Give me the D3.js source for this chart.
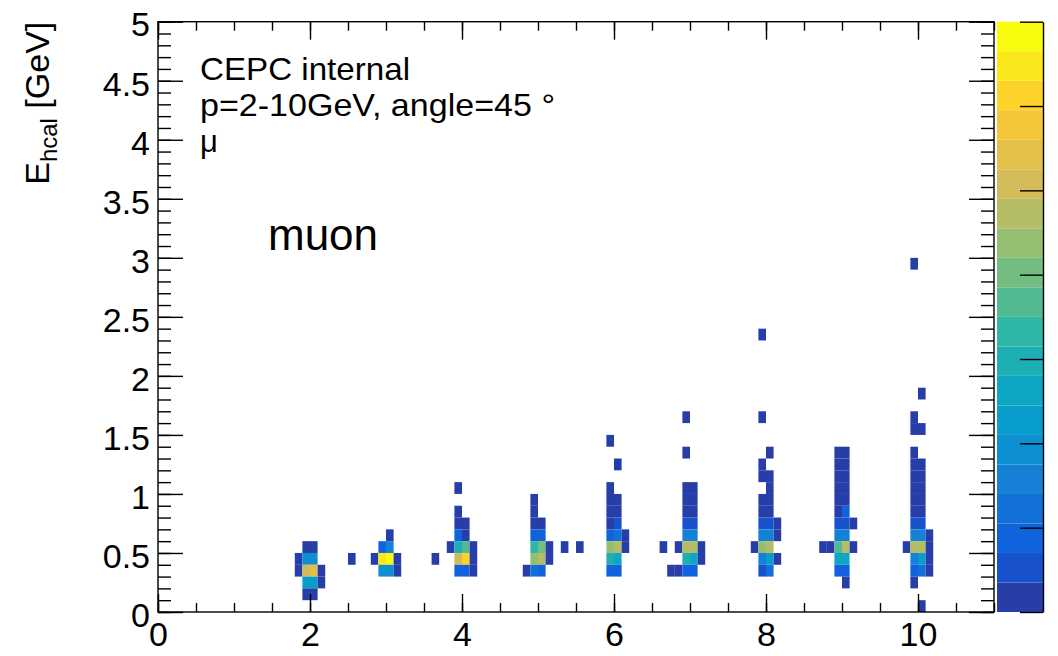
<!DOCTYPE html>
<html>
<head>
<meta charset="utf-8">
<script src="https://cdn.jsdelivr.net/npm/d3@7"></script>
<style>
  html, body { margin: 0; padding: 0; background: #fff; }
  svg { display: block; font-family: "Liberation Sans", Arial, Helvetica, sans-serif; }
</style>
</head>
<body>
<svg id="chart" width="1058" height="656"></svg>
<script>
// histogram binning, GeV
var binW = 0.1, binH = 0.1;
var xDomain = [0, 11], yDomain = [0, 5], zDomain = [0, 7];
var xTickLabels = [0, 2, 4, 6, 8, 10];
var yTickLabels = [0, 0.5, 1, 1.5, 2, 2.5, 3, 3.5, 4, 4.5, 5];
var zTicks = [0, 1, 2, 3, 4, 5, 6, 7];

// filled bins: [x low edge, y low edge, content], one list per beam momentum
var p2 = [
  [1.9,0.5,0.2],[2.0,0.5,0.2],
  [1.8,0.4,0.2],[1.9,0.4,1.9],[2.0,0.4,1.9],
  [1.8,0.3,0.2],[1.9,0.3,5.1],[2.0,0.3,5.4],[2.1,0.3,0.2],
  [1.9,0.2,2.3],[2.0,0.2,2.3],[2.1,0.2,0.2],
  [1.9,0.1,0.2],[2.0,0.1,0.2],
  [2.5,0.4,0.2]
];
var p3 = [
  [3.0,0.6,0.2],
  [2.9,0.5,0.9],[3.0,0.5,1.6],
  [2.8,0.4,0.2],[2.9,0.4,6.5],[3.0,0.4,6.9],[3.1,0.4,0.2],
  [2.9,0.3,1.9],[3.0,0.3,1.9],[3.1,0.3,0.2],
  [3.6,0.4,0.2]
];
var p4 = [
  [3.9,1.0,0.2],
  [3.9,0.8,0.2],
  [3.9,0.7,0.2],[4.0,0.7,0.2],
  [3.9,0.6,0.9],[4.0,0.6,0.2],
  [3.8,0.5,0.2],[3.9,0.5,3.0],[4.0,0.5,3.7],[4.1,0.5,0.2],
  [3.9,0.4,5.1],[4.0,0.4,6.1],[4.1,0.4,0.2],
  [3.9,0.3,0.9],[4.0,0.3,0.9],[4.1,0.3,0.2]
];
var p5 = [
  [4.9,0.9,0.2],[4.9,0.8,0.2],
  [4.9,0.7,0.2],[5.0,0.7,0.2],
  [4.9,0.6,0.9],[5.0,0.6,0.9],
  [4.9,0.5,3.3],[5.0,0.5,4.0],[5.1,0.5,0.2],
  [4.9,0.4,4.4],[5.0,0.4,4.7],[5.1,0.4,0.2],
  [4.8,0.3,0.2],[4.9,0.3,1.2],[5.0,0.3,0.9],
  [5.3,0.5,0.2],[5.5,0.5,0.2]
];
var p6 = [
  [5.9,1.4,0.2],[6.0,1.2,0.2],[5.9,1.0,0.2],
  [5.9,0.9,0.2],[6.0,0.9,0.2],
  [5.9,0.8,0.2],[6.0,0.8,0.2],
  [5.9,0.7,0.2],[6.0,0.7,0.5],
  [5.9,0.6,0.9],[6.0,0.6,1.2],[6.1,0.6,0.2],
  [5.9,0.5,4.4],[6.0,0.5,4.7],[6.1,0.5,0.2],
  [5.9,0.4,3.0],[6.0,0.4,2.6],
  [5.9,0.3,0.9],[6.0,0.3,0.9]
];
var p7 = [
  [6.9,1.6,0.2],[6.9,1.3,0.2],
  [6.9,1.0,0.2],[7.0,1.0,0.2],
  [6.9,0.9,0.2],[7.0,0.9,0.2],
  [6.9,0.8,0.2],[7.0,0.8,0.2],
  [6.9,0.7,0.5],[7.0,0.7,0.5],
  [6.9,0.6,1.6],[7.0,0.6,1.6],
  [6.6,0.5,0.2],[6.8,0.5,0.2],[6.9,0.5,4.7],[7.0,0.5,4.7],[7.1,0.5,0.2],
  [6.9,0.4,3.0],[7.0,0.4,2.6],[7.1,0.4,0.2],
  [6.7,0.3,0.2],[6.8,0.3,0.2],[6.9,0.3,0.9],[7.0,0.3,0.9]
];
var p8 = [
  [7.9,2.3,0.2],[7.9,1.6,0.2],[8.0,1.3,0.2],[7.9,1.2,0.2],
  [7.9,1.1,0.2],[8.0,1.1,0.2],[8.0,1.0,0.2],
  [7.9,0.9,0.2],[8.0,0.9,0.2],
  [7.9,0.8,0.2],[8.0,0.8,0.2],
  [7.9,0.7,0.5],[8.0,0.7,0.5],[8.1,0.7,0.2],
  [7.9,0.6,1.6],[8.0,0.6,1.6],[8.1,0.6,0.2],
  [7.8,0.5,0.2],[7.9,0.5,4.4],[8.0,0.5,4.7],
  [7.9,0.4,1.6],[8.0,0.4,2.3],[8.1,0.4,0.2],
  [7.9,0.3,0.5],[8.0,0.3,1.2]
];
var p9 = [
  [8.9,1.3,0.2],[9.0,1.3,0.2],
  [8.9,1.2,0.2],[9.0,1.2,0.2],
  [8.9,1.1,0.2],[9.0,1.1,0.2],
  [8.9,1.0,0.2],[9.0,1.0,0.2],
  [8.9,0.9,0.2],[9.0,0.9,0.2],
  [8.9,0.8,0.2],[9.0,0.8,0.9],
  [8.9,0.7,0.5],[9.0,0.7,0.5],[9.1,0.7,0.2],
  [8.9,0.6,1.6],[9.0,0.6,1.6],
  [8.7,0.5,0.2],[8.8,0.5,0.2],[8.9,0.5,3.7],[9.0,0.5,4.7],[9.1,0.5,0.2],
  [8.9,0.4,2.6],[9.0,0.4,2.6],
  [8.9,0.3,0.9],[9.0,0.3,0.9],
  [9.0,0.2,0.2]
];
var p10 = [
  [9.9,2.9,0.2],[10.0,1.8,0.2],[9.9,1.6,0.2],
  [9.9,1.5,0.2],[10.0,1.5,0.2],[9.9,1.3,0.2],
  [9.9,1.2,0.2],[10.0,1.2,0.2],
  [9.9,1.1,0.2],[10.0,1.1,0.2],
  [9.9,1.0,0.2],[10.0,1.0,0.2],
  [9.9,0.9,0.2],[10.0,0.9,0.2],
  [9.9,0.8,0.2],[10.0,0.8,0.2],
  [9.9,0.7,0.5],[10.0,0.7,0.5],
  [9.9,0.6,1.6],[10.0,0.6,1.6],[10.1,0.6,0.2],
  [9.8,0.5,0.2],[9.9,0.5,4.7],[10.0,0.5,4.7],[10.1,0.5,0.2],
  [9.9,0.4,1.6],[10.0,0.4,2.3],[10.1,0.4,0.2],
  [9.9,0.3,0.9],[10.0,0.3,1.2],[10.1,0.3,0.2],
  [9.9,0.2,0.2],
  [10.0,0.0,0.2]
];
var bins = [].concat(p2, p3, p4, p5, p6, p7, p8, p9, p10);

// ROOT kBird palette, 20 contour levels
var birdStops = ["#352a87", "#0f5cdd", "#1481d6", "#06a4ca", "#2eb7a4", "#87bf77", "#d1bb59", "#fec832", "#f9fb0e"];
var nLevels = 20;

var frame = { left: 158, right: 994, top: 21.7, bottom: 612 };
var cbar = { left: 997, right: 1043 };

var svg = d3.select("#chart");

var x = d3.scaleLinear().domain(xDomain).range([frame.left, frame.right]);
var y = d3.scaleLinear().domain(yDomain).range([frame.bottom, frame.top]);
var z = d3.scaleLinear().domain(zDomain).range([frame.bottom, frame.top]);

var bird = d3.piecewise(d3.interpolateRgb, birdStops);
var levelColors = d3.range(nLevels).map(function(i) {
    return bird(Math.floor((i + 0.99) * 255 / nLevels) / 254);
});
var color = d3.scaleQuantize().domain(zDomain).range(levelColors);

// cells
svg.append("g").attr("class", "cells")
    .selectAll("rect").data(bins).enter().append("rect")
    .attr("x", function(d) { return x(d[0]); })
    .attr("y", function(d) { return y(d[1] + binH); })
    .attr("width", function(d) { return x(d[0] + binW) - x(d[0]); })
    .attr("height", function(d) { return y(d[1]) - y(d[1] + binH); })
    .attr("fill", function(d) { return color(d[2]); });

// axes, ticks drawn inside the frame like ROOT
function styleAxis(g) {
    g.select(".domain").remove();
    g.selectAll(".tick line").attr("stroke", "#000").attr("stroke-width", 1.4);
}
var xMinor = d3.range(0, 11.01, 0.5);
var yMinor = d3.range(0, 5.01, 0.1);

svg.append("g").attr("transform", "translate(0," + frame.bottom + ")")
    .call(d3.axisBottom(x).tickValues(xMinor).tickSize(-9).tickFormat(""))
    .call(styleAxis);
svg.append("g").attr("transform", "translate(0," + frame.bottom + ")")
    .call(d3.axisBottom(x).tickValues(xTickLabels).tickSize(-18).tickPadding(10).tickFormat(d3.format("d")))
    .call(styleAxis)
    .call(function(g) {
        g.selectAll("text").attr("fill", "#000").attr("font-size", 34).attr("font-family", null);
    });
svg.append("g").attr("transform", "translate(0," + frame.top + ")")
    .call(d3.axisTop(x).tickValues(xMinor).tickSize(-9).tickFormat(""))
    .call(styleAxis);
svg.append("g").attr("transform", "translate(0," + frame.top + ")")
    .call(d3.axisTop(x).tickValues(xTickLabels).tickSize(-18).tickFormat(""))
    .call(styleAxis);

svg.append("g").attr("transform", "translate(" + frame.left + ",0)")
    .call(d3.axisLeft(y).tickValues(yMinor).tickSize(-13).tickFormat(""))
    .call(styleAxis);
svg.append("g").attr("transform", "translate(" + frame.left + ",0)")
    .call(d3.axisLeft(y).tickValues(yTickLabels).tickSize(-25).tickPadding(8).tickFormat(d3.format("")))
    .call(styleAxis)
    .call(function(g) {
        g.selectAll("text").attr("fill", "#000").attr("font-size", 34).attr("font-family", null)
            .attr("dy", "0.42em");
    });
svg.append("g").attr("transform", "translate(" + frame.right + ",0)")
    .call(d3.axisRight(y).tickValues(yMinor).tickSize(-13).tickFormat(""))
    .call(styleAxis);
svg.append("g").attr("transform", "translate(" + frame.right + ",0)")
    .call(d3.axisRight(y).tickValues(yTickLabels).tickSize(-25).tickFormat(""))
    .call(styleAxis);

svg.append("rect")
    .attr("x", frame.left).attr("y", frame.top)
    .attr("width", frame.right - frame.left).attr("height", frame.bottom - frame.top)
    .attr("fill", "none").attr("stroke", "#000").attr("stroke-width", 1.4);

// colour bar
svg.append("g").attr("class", "palette")
    .selectAll("rect").data(levelColors).enter().append("rect")
    .attr("x", cbar.left)
    .attr("width", cbar.right - cbar.left)
    .attr("y", function(c) { return z(color.invertExtent(c)[1]); })
    .attr("height", function(c) { var e = color.invertExtent(c); return z(e[0]) - z(e[1]); })
    .attr("fill", function(c) { return c; });
svg.append("g").attr("transform", "translate(" + cbar.right + ",0)")
    .call(d3.axisRight(z).tickValues(zTicks).tickSize(-23).tickSizeOuter(0).tickFormat(""))
    .call(function(g) {
        g.select(".domain").attr("stroke", "#000").attr("stroke-width", 1.4);
        g.selectAll(".tick line").attr("stroke", "#000").attr("stroke-width", 1.4);
    });

// y axis title
var title = svg.append("text")
    .attr("transform", "translate(49," + frame.top + ") rotate(-90)")
    .attr("text-anchor", "end")
    .attr("font-size", 34);
title.append("tspan").text("E");
title.append("tspan").attr("font-size", 24).attr("dy", 8).text("hcal");
title.append("tspan").attr("dy", -8).text(" [GeV]");

// labels (width matched to the reference line lengths)
var labels = [
    { text: "CEPC internal", x: 200, y: 80, size: 32, len: 210 },
    { text: "p=2-10GeV, angle=45 \u00b0", x: 200, y: 116, size: 32, len: 355 },
    { text: "\u03bc", x: 200, y: 152, size: 31, len: null },
    { text: "muon", x: 268, y: 250, size: 44, len: null }
];
svg.append("g").selectAll("text").data(labels).enter().append("text")
    .attr("x", function(d) { return d.x; })
    .attr("y", function(d) { return d.y; })
    .attr("font-size", function(d) { return d.size; })
    .attr("textLength", function(d) { return d.len; })
    .attr("lengthAdjust", "spacingAndGlyphs")
    .text(function(d) { return d.text; });
</script>
</body>
</html>
